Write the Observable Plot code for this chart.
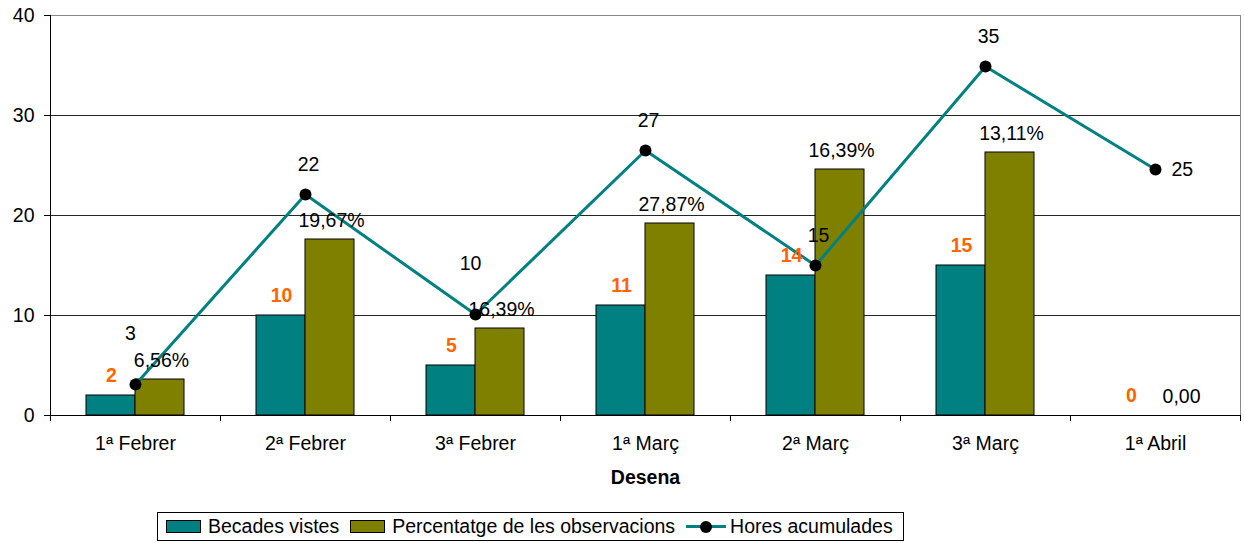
<!DOCTYPE html>
<html><head><meta charset="utf-8">
<script src="https://cdn.jsdelivr.net/npm/d3@7"></script>
<script src="https://cdn.jsdelivr.net/npm/@observablehq/plot@0.6"></script>
<style>
body{margin:0;background:#fff;font-family:"Liberation Sans",Arial,sans-serif;}
#chart{position:relative;width:1244px;height:543px;overflow:hidden;}
#chart svg{display:block;}
#legend{position:absolute;left:157px;top:512px;height:29px;border:1px solid #000;display:flex;align-items:center;font-size:19.5px;padding:0 10px 0 8px;box-sizing:border-box;color:#000;white-space:nowrap;}
.sw{display:inline-block;width:35px;height:13px;border:1px solid #000;box-sizing:border-box;margin-right:7px;}
.item{display:flex;align-items:center;margin-right:11px;}
.ln{position:relative;width:40px;height:14px;margin-right:4px;}
.ln:before{content:"";position:absolute;left:0;right:0;top:5.5px;height:3px;background:#008080;}
.ln:after{content:"";position:absolute;left:14px;top:1px;width:12px;height:12px;border-radius:50%;background:#000;}
</style></head>
<body><div id="chart"></div>
<script>
const categories = ["1ª Febrer","2ª Febrer","3ª Febrer","1ª Març","2ª Març","3ª Març","1ª Abril"];
const becades = [2, 10, 5, 11, 14, 15, 0];
const becadesLabels = ["2","10","5","11","14","15","0"];
const percentatge = [3.6, 17.6, 8.7, 19.2, 24.6, 26.3, 0];
const percentatgeLabels = ["6,56%","19,67%","16,39%","27,87%","16,39%","13,11%","0,00"];
const hores = [3.1, 22.1, 10.1, 26.5, 15.0, 34.9, 24.6];
const horesLabels = ["3","22","10","27","15","35","25"];
const yTicks = [0, 10, 20, 30, 40];
const seriesNames = ["Becades vistes","Percentatge de les observacions","Hores acumulades"];
const seriesColors = ["#008080","#808000","#008080"];
const xTitle = "Desena";

const data = categories.map((c, i) => ({
  cat: c, becades: becades[i], becLab: becadesLabels[i],
  perc: percentatge[i], percLab: percentatgeLabels[i],
  hores: hores[i], horLab: horesLabels[i], last: i === categories.length - 1
}));
// line labels collide with the bar label when the point sits near the olive bar top
const crowded = d => Math.abs(d.hores - d.perc) < 3;

const font = "Liberation Sans, Arial, sans-serif";
const fs = 19.5;
const chart = Plot.plot({
  width: 1244, height: 503,
  marginTop: 15, marginBottom: 88, marginLeft: 50, marginRight: 4,
  style: {fontFamily: font, fontSize: fs + "px", color: "#000", background: "#fff"},
  x: {type: "band", domain: categories, padding: 0},
  y: {domain: [0, 40]},
  marks: [
    Plot.gridY([10, 20, 30], {stroke: "#000", strokeOpacity: 0.85}),
    Plot.frame({stroke: "#888"}),
    Plot.barY(data.filter(d => d.becades > 0), {x: "cat", y: "becades", fill: seriesColors[0], stroke: "#000", strokeWidth: 1, insetLeft: 36, insetRight: 85}),
    Plot.barY(data.filter(d => d.perc > 0), {x: "cat", y: "perc", fill: seriesColors[1], stroke: "#000", strokeWidth: 1, insetLeft: 85, insetRight: 36}),
    Plot.ruleY([0], {stroke: "#000"}),
    Plot.tickX([categories[0]], {x: d => d, dx: -85, stroke: "#000"}),
    Plot.line(data, {x: "cat", y: "hores", stroke: seriesColors[2], strokeWidth: 3}),
    Plot.dot(data, {x: "cat", y: "hores", r: 6, fill: "#000", stroke: "none"}),
    Plot.text(data, {filter: d => !d.last && !crowded(d), x: "cat", y: "hores", text: "horLab", dx: 3, dy: -30, fontSize: fs, fill: "#000"}),
    Plot.text(data, {filter: d => !d.last && crowded(d), x: "cat", y: "hores", text: "horLab", dx: -5, dy: -51, fontSize: fs, fill: "#000"}),
    Plot.text(data, {filter: d => d.last, x: "cat", y: "hores", text: "horLab", dx: 16, textAnchor: "start", fontSize: fs, fill: "#000"}),
    Plot.text(data, {x: "cat", y: "perc", text: "percLab", dx: 26, dy: -19, fontSize: fs, fill: "#000"}),
    Plot.text(data, {x: "cat", y: "becades", text: "becLab", dx: -24, dy: -20, fontSize: fs, fontWeight: "bold", fill: "#FF6600"}),
    Plot.axisY({ticks: yTicks, tickSize: 6, tickPadding: 10, label: null, fontSize: fs}),
    Plot.axisX({tickSize: 0, tickPadding: 21, label: null, fontSize: fs}),
    Plot.axisX({tickSize: 6, dx: -85, tickFormat: () => "", label: null}),
    Plot.axisX({tickSize: 6, dx: 85, tickFormat: () => "", label: null}),
    Plot.text([xTitle], {frameAnchor: "bottom", dy: 68, fontWeight: "bold", fontSize: fs, fill: "#000"})
  ]
});
const root = document.getElementById("chart");
root.appendChild(chart);
const legend = document.createElement("div");
legend.id = "legend";
legend.innerHTML =
  `<div class="item"><span class="sw" style="background:${seriesColors[0]}"></span>${seriesNames[0]}</div>` +
  `<div class="item"><span class="sw" style="background:${seriesColors[1]}"></span>${seriesNames[1]}</div>` +
  `<div class="item" style="margin-right:0"><span class="ln"></span>${seriesNames[2]}</div>`;
root.appendChild(legend);
</script>
</body></html>
